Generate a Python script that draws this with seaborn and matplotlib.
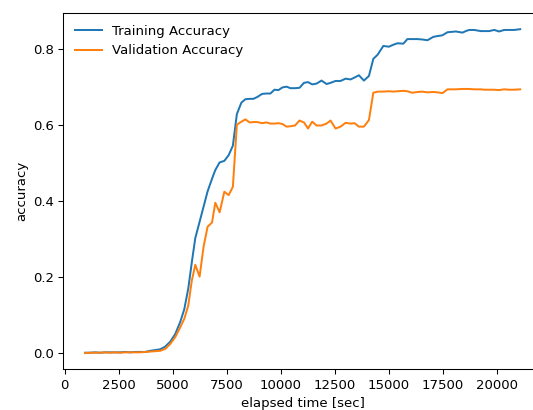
import pandas as pd
import matplotlib
matplotlib.use("Agg")
import matplotlib.pyplot as plt
import seaborn as sns

# elapsed time of each evaluation [sec]
elapsed = [942, 1174, 1406, 1638, 1870, 2102, 2334, 2566, 2798, 3030,
           3262, 3494, 3726, 3958, 4190, 4422, 4654, 4886, 5118, 5350,
           5536, 5722, 5884, 6046, 6246, 6432, 6617, 6821, 6974, 7174,
           7392, 7592, 7787, 7972, 8181, 8367, 8566, 8738, 8923, 9142,
           9341, 9527, 9712, 9898, 10084, 10269, 10455, 10664, 10872, 11081,
           11267, 11462, 11661, 11893, 12125, 12311, 12543, 12775, 13007, 13239,
           13425, 13624, 13856, 14088, 14292, 14492, 14756, 15016, 15211, 15406,
           15684, 15870, 16093, 16334, 16557, 16798, 17077, 17276, 17494, 17726,
           17926, 18111, 18422, 18575, 18729, 18961, 19271, 19457, 19657, 19889,
           20121, 20353, 20571, 20817, 21095]

train_acc = [0.001, 0.001, 0.002, 0.001, 0.002, 0.002, 0.002, 0.002, 0.003, 0.002,
             0.003, 0.003, 0.003, 0.006, 0.008, 0.010, 0.017, 0.030, 0.050, 0.082,
             0.115, 0.170, 0.238, 0.302, 0.345, 0.385, 0.425, 0.458, 0.481, 0.501,
             0.505, 0.520, 0.545, 0.628, 0.658, 0.667, 0.668, 0.668, 0.673, 0.681,
             0.682, 0.682, 0.692, 0.691, 0.698, 0.700, 0.696, 0.696, 0.697, 0.710,
             0.712, 0.706, 0.708, 0.716, 0.707, 0.710, 0.715, 0.715, 0.721, 0.719,
             0.724, 0.730, 0.716, 0.728, 0.773, 0.784, 0.807, 0.805, 0.810, 0.814,
             0.813, 0.825, 0.825, 0.825, 0.824, 0.822, 0.831, 0.833, 0.835, 0.843,
             0.844, 0.845, 0.842, 0.846, 0.849, 0.849, 0.846, 0.846, 0.846, 0.849,
             0.845, 0.849, 0.849, 0.849, 0.851]

val_acc = [0.000, 0.001, 0.001, 0.001, 0.002, 0.001, 0.002, 0.001, 0.002, 0.002,
           0.002, 0.002, 0.003, 0.004, 0.005, 0.006, 0.011, 0.024, 0.042, 0.068,
           0.090, 0.125, 0.190, 0.232, 0.201, 0.280, 0.332, 0.343, 0.395, 0.370,
           0.424, 0.415, 0.437, 0.600, 0.608, 0.614, 0.606, 0.607, 0.607, 0.604,
           0.606, 0.603, 0.603, 0.604, 0.602, 0.595, 0.596, 0.598, 0.611, 0.606,
           0.590, 0.608, 0.598, 0.598, 0.603, 0.611, 0.590, 0.595, 0.605, 0.603,
           0.604, 0.595, 0.595, 0.612, 0.684, 0.687, 0.687, 0.688, 0.687, 0.688,
           0.689, 0.688, 0.684, 0.686, 0.687, 0.685, 0.686, 0.685, 0.683, 0.693,
           0.693, 0.693, 0.694, 0.694, 0.694, 0.693, 0.693, 0.692, 0.692, 0.692,
           0.691, 0.693, 0.692, 0.692, 0.693]

df = pd.DataFrame({"elapsed": elapsed, "train": train_acc, "val": val_acc})

DPI = 95
fig = plt.figure(figsize=(533 / DPI, 410 / DPI), dpi=DPI)
# axes run past the right edge, like the cropped original
ax = fig.add_axes([0.1188, 0.0993, 0.898, 0.869])

sns.lineplot(data=df, x="elapsed", y="train", ax=ax, color="#1f77b4",
             linewidth=1.5, label="Training Accuracy")
sns.lineplot(data=df, x="elapsed", y="val", ax=ax, color="#ff7f0e",
             linewidth=1.5, label="Validation Accuracy")

ax.set_xlabel("elapsed time [sec]")
ax.set_ylabel("accuracy")
ax.set_xticks([0, 2500, 5000, 7500, 10000, 12500, 15000, 17500, 20000])
ax.set_yticks([0.0, 0.2, 0.4, 0.6, 0.8])
ax.spines["right"].set_visible(False)
ax.legend(loc="upper left", frameon=False)

fig.savefig("out.png", dpi=DPI)
plt.close(fig)
